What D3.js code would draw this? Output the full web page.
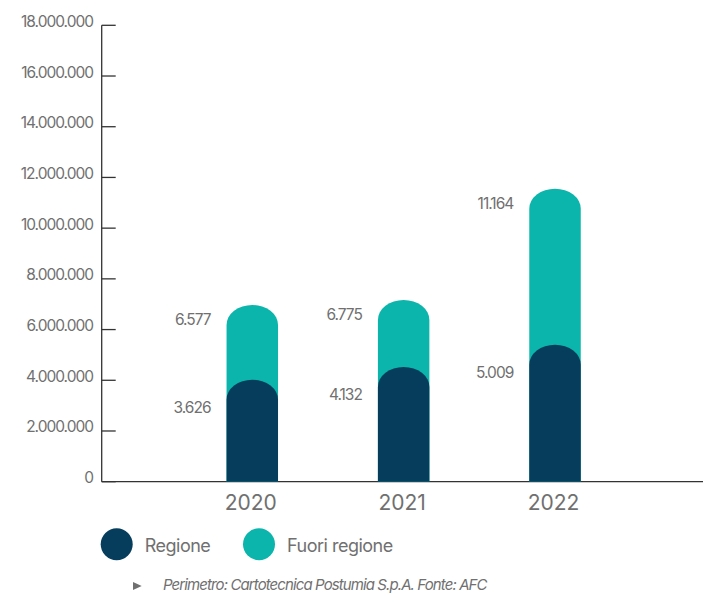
<!DOCTYPE html>
<html>
<head>
<meta charset="utf-8">
<script src="https://cdn.jsdelivr.net/npm/d3@7"></script>
<style>
  body { margin: 0; background: #fff; }
  svg { display: block; font-family: Inter, "Liberation Sans", sans-serif; }
</style>
</head>
<body>
<svg id="chart" width="703" height="603"></svg>
<script>
var width = 703;
var height = 603;

// values in thousands, as printed on the chart
var years = ["2020", "2021", "2022"];
var regione = [3626, 4132, 5009];
var fuoriRegione = [6577, 6775, 11164];
var yTicks = [0, 2000000, 4000000, 6000000, 8000000, 10000000, 12000000, 14000000, 16000000, 18000000];
var seriesNames = ["Regione", "Fuori regione"];
var colors = ["#063c5c", "#0bb5ab"];
var note = "Perimetro: Cartotecnica Postumia S.p.A. Fonte: AFC";

var it = d3.formatLocale({ decimal: ",", thousands: ".", grouping: [3], currency: ["", "€"] });
var fmt = it.format(",d");

var svg = d3.select("#chart");

var x = d3.scaleBand()
    .domain(years)
    .range([176.6, 630.7])
    .paddingInner(0.66)
    .paddingOuter(0.33);

var y = d3.scaleLinear()
    .domain([0, 18000000])
    .range([481.7, 25.3]);

var axisX = 101.7;

// y axis: line + short ticks pointing right
svg.append("line")
    .attr("x1", axisX).attr("x2", axisX)
    .attr("y1", y(18000000)).attr("y2", y(0))
    .attr("stroke", "#333").attr("stroke-width", 1.3);

svg.selectAll(".tick")
    .data(yTicks)
    .enter().append("line")
    .attr("class", "tick")
    .attr("x1", axisX).attr("x2", axisX + 14)
    .attr("y1", d => y(d)).attr("y2", d => y(d))
    .attr("stroke", "#333").attr("stroke-width", 1.3);

svg.selectAll(".tlabel")
    .data(yTicks)
    .enter().append("text")
    .attr("class", "tlabel")
    .attr("x", 93)
    .attr("y", d => y(d) + 1.5)
    .attr("text-anchor", "end")
    .attr("font-size", 15.5)
    .attr("letter-spacing", -1)
    .attr("fill", "#707070")
    .text(d => fmt(d));

// baseline
svg.append("line")
    .attr("x1", axisX).attr("x2", width)
    .attr("y1", y(0)).attr("y2", y(0))
    .attr("stroke", "#333").attr("stroke-width", 1.3);

// pill shaped bars
function pill(cx, v) {
    var bw = x.bandwidth();
    var x0 = cx - bw / 2, x1 = cx + bw / 2;
    var top = y(v) - 10;
    var ry = 20;
    return "M" + x0 + "," + y(0) +
        "L" + x0 + "," + (top + ry) +
        "A" + (bw / 2) + "," + ry + " 0 0 1 " + x1 + "," + (top + ry) +
        "L" + x1 + "," + y(0) + "Z";
}

var series = [fuoriRegione, regione];
var seriesColor = [colors[1], colors[0]];

series.forEach(function(vals, si) {
    svg.selectAll(".bar" + si)
        .data(vals)
        .enter().append("path")
        .attr("class", "bar" + si)
        .attr("d", (d, i) => pill(x(years[i]) + x.bandwidth() / 2, d * 1000))
        .attr("fill", seriesColor[si]);
});

// value labels left of bars
svg.selectAll(".vlabF")
    .data(fuoriRegione)
    .enter().append("text")
    .attr("class", "vlabF")
    .attr("x", (d, i) => x(years[i]) - 16)
    .attr("y", d => y(d * 1000) + 10)
    .attr("text-anchor", "end")
    .attr("font-size", 15.5)
    .attr("letter-spacing", -1)
    .attr("fill", "#707070")
    .text(d => fmt(d));

svg.selectAll(".vlabR")
    .data(regione)
    .enter().append("text")
    .attr("class", "vlabR")
    .attr("x", (d, i) => x(years[i]) - 16)
    .attr("y", d => y(d * 1000) + 23)
    .attr("text-anchor", "end")
    .attr("font-size", 15.5)
    .attr("letter-spacing", -1)
    .attr("fill", "#707070")
    .text(d => fmt(d));

// year labels
svg.selectAll(".year")
    .data(years)
    .enter().append("text")
    .attr("class", "year")
    .attr("x", d => x(d) + x.bandwidth() / 2 - 1.5)
    .attr("y", 510)
    .attr("text-anchor", "middle")
    .attr("font-size", 21)
    .attr("fill", "#707070")
    .text(d => d);

// legend
var legX = [116.7, 259];
var leg = svg.selectAll(".leg")
    .data(seriesNames)
    .enter().append("g")
    .attr("class", "leg")
    .attr("transform", (d, i) => "translate(" + legX[i] + ",544.3)");
leg.append("circle")
    .attr("r", 16)
    .attr("fill", (d, i) => colors[i]);
leg.append("text")
    .attr("x", 28)
    .attr("y", 8)
    .attr("font-size", 18)
    .attr("letter-spacing", -0.5)
    .attr("fill", "#707070")
    .text(d => d);

// footnote
svg.append("path")
    .attr("d", "M133,582L141.7,586L133,590Z")
    .attr("fill", "#707070");
svg.append("text")
    .attr("x", 163)
    .attr("y", 590)
    .attr("font-size", 15)
    .attr("font-style", "italic")
    .attr("letter-spacing", -0.9)
    .attr("fill", "#707070")
    .text(note);
</script>
</body>
</html>
